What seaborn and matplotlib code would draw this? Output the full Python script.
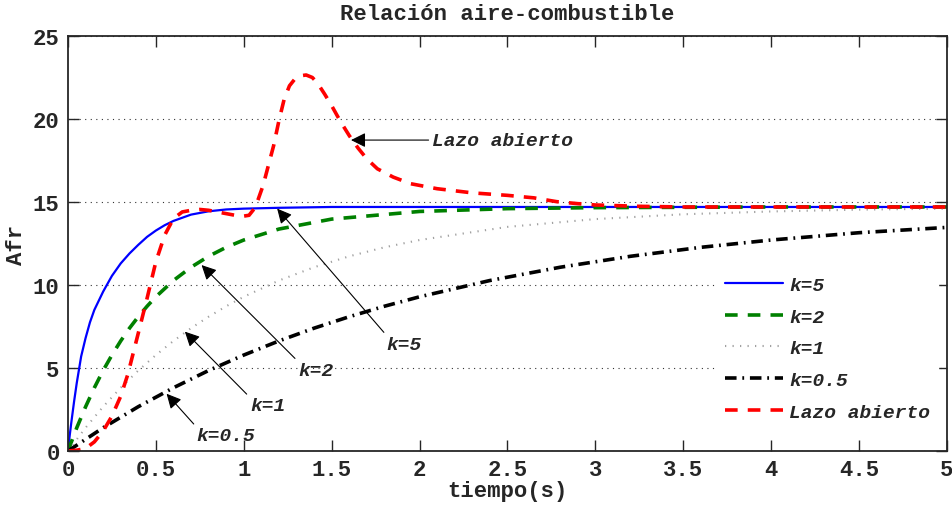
import numpy as np
import pandas as pd
import matplotlib
matplotlib.use("Agg")
import matplotlib.pyplot as plt
import seaborn as sns

# --- data ---
t_k5 = [0, 0.01, 0.02, 0.035, 0.05, 0.075, 0.1, 0.125, 0.15, 0.2, 0.25, 0.3, 0.35,
        0.4, 0.45, 0.5, 0.55, 0.6, 0.7, 0.8, 0.9, 1.0, 1.2, 1.5, 2.0, 3.0, 4.0, 5.0]
afr_k5 = [0, 0.95, 1.8, 3.0, 4.1, 5.7, 6.8, 7.75, 8.5, 9.6, 10.55, 11.3, 11.9,
          12.42, 12.9, 13.28, 13.6, 13.86, 14.24, 14.44, 14.55, 14.6, 14.65, 14.7,
          14.7, 14.7, 14.7, 14.7]

t_k2 = [0, 0.05, 0.1, 0.15, 0.2, 0.25, 0.3, 0.35, 0.4, 0.45, 0.5, 0.6, 0.7,
        0.8, 0.9, 1.0, 1.2, 1.5, 2.0, 2.5, 3.0, 4.0, 5.0]
afr_k2 = [0, 1.4, 2.66, 3.81, 4.85, 5.78, 6.63, 7.40, 8.09, 8.72, 9.29, 10.27, 11.07,
          11.73, 12.27, 12.71, 13.37, 13.97, 14.43, 14.6, 14.66, 14.7, 14.7]

t_k1 = [0, 0.1, 0.2, 0.3, 0.4, 0.5, 0.6, 0.7, 0.8, 0.9, 1.0, 1.2, 1.4, 1.6,
        1.8, 2.0, 2.5, 3.0, 3.5, 4.0, 4.5, 5.0]
afr_k1 = [0, 1.4, 2.67, 3.81, 4.85, 5.78, 6.63, 7.40, 8.09, 8.72, 9.29, 10.27, 11.07, 11.73,
          12.27, 12.71, 13.5, 13.97, 14.26, 14.43, 14.54, 14.6]

t_k05 = [0, 0.2, 0.4, 0.6, 0.8, 1.0, 1.2, 1.4, 1.6, 1.8, 2.0, 2.4, 2.8, 3.2,
         3.6, 4.0, 4.5, 5.0]
afr_k05 = [0, 1.4, 2.67, 3.81, 4.85, 5.78, 6.63, 7.40, 8.09, 8.72, 9.29, 10.27, 11.07, 11.73,
           12.27, 12.71, 13.15, 13.47]

t_lazo = [0, 0.05, 0.1, 0.15, 0.2, 0.25, 0.3, 0.34, 0.4, 0.45, 0.5, 0.55, 0.6, 0.65,
          0.7, 0.75, 0.8, 0.85, 0.9, 0.95, 1.0, 1.03, 1.06, 1.08, 1.11, 1.14, 1.17,
          1.2, 1.23, 1.26, 1.29, 1.32, 1.355, 1.39, 1.42, 1.46, 1.5, 1.55, 1.6, 1.65,
          1.7, 1.76, 1.85, 1.95, 2.1, 2.3, 2.5, 2.65, 2.78, 2.9, 3.0, 3.25, 3.5, 4.0, 5.0]
afr_lazo = [0, 0.05, 0.15, 0.55, 1.2, 2.1, 3.3, 4.6, 7.1, 9.2, 11.4, 13.0, 14.0, 14.4,
            14.5, 14.55, 14.5, 14.4, 14.3, 14.2, 14.15, 14.2, 14.6, 15.1, 16.0, 17.2, 18.4,
            19.9, 21.2, 22.0, 22.4, 22.6, 22.65, 22.5, 22.15, 21.5, 20.8, 19.85, 19.0, 18.25,
            17.6, 17.0, 16.5, 16.1, 15.8, 15.55, 15.4, 15.25, 15.02, 14.9, 14.82, 14.74, 14.7, 14.7, 14.7]

x_ticks = [0, 0.5, 1, 1.5, 2, 2.5, 3, 3.5, 4, 4.5, 5]
x_tick_labels = ["0", "0.5", "1", "1.5", "2", "2.5", "3", "3.5", "4", "4.5", "5"]
y_ticks = [0, 5, 10, 15, 20, 25]

# annotations: label, arrow tip (t, afr), text anchor (t, afr)
notes = [
    ("Lazo abierto", (1.61, 18.73), (2.07, 18.73)),
    ("k=5", (1.19, 14.6), (1.813, 6.95)),
    ("k=2", (0.76, 11.2), (1.31, 5.38)),
    ("k=1", (0.665, 7.19), (1.035, 3.23)),
    ("k=0.5", (0.561, 3.45), (0.732, 1.43)),
]


def main():
    sns.set_style("ticks")
    plt.rcParams["font.family"] = ["Liberation Mono", "DejaVu Sans Mono"]
    plt.rcParams["font.weight"] = "bold"

    fig = plt.figure(figsize=(9.52, 5.06), dpi=100)
    ax = fig.add_axes([0.0714, 0.1067, 0.9233, 0.8202])

    sns.lineplot(x=t_k5, y=afr_k5, ax=ax, color="#0000ff", lw=1.6, label="k=5")
    sns.lineplot(x=t_k2, y=afr_k2, ax=ax, color="#008000", lw=2.6,
                 linestyle=(0, (3.5, 2.8)), label="k=2")
    sns.lineplot(x=t_k1, y=afr_k1, ax=ax, color="#a0a0a0", lw=1.5,
                 linestyle=(0, (0.6, 3.0)), label="k=1")
    sns.lineplot(x=t_k05, y=afr_k05, ax=ax, color="black", lw=2.6,
                 linestyle=(0, (3.2, 1.6, 0.5, 1.6)), label="k=0.5")
    sns.lineplot(x=t_lazo, y=afr_lazo, ax=ax, color="#ff0000", lw=2.6,
                 linestyle=(0, (3.5, 2.8)), label="Lazo abierto")

    ax.set_xlim(0, 5)
    ax.set_ylim(0, 25)
    ax.set_xticks(x_ticks)
    ax.set_xticklabels(x_tick_labels)
    ax.set_yticks(y_ticks)
    ax.tick_params(direction="in", top=True, right=True, length=8, width=1,
                   labelsize=16, pad=6)
    for s in ax.spines.values():
        s.set_linewidth(1.3)
    ax.yaxis.grid(True, linestyle=(0, (1, 4)), color="#333333", lw=0.8)
    ax.set_axisbelow(True)

    ax.set_title("Relación aire-combustible", fontsize=16, fontweight="bold", pad=12)
    ax.set_xlabel("tiempo(s)", fontsize=16, fontweight="bold", labelpad=0)
    ax.set_ylabel("Afr", fontsize=16, fontweight="bold", labelpad=4)

    for label, tip, tail in notes:
        if label == "Lazo abierto":
            va, rel = "center", (0, 0.5)
        else:
            va, rel = "top", (0, 1)
        ax.annotate(label, xy=tip, xytext=tail, ha="left", va=va,
                    fontsize=14, fontstyle="italic", fontweight="bold",
                    arrowprops=dict(arrowstyle="-|>", color="black", lw=0.8,
                                    shrinkA=0, shrinkB=0, relpos=rel,
                                    mutation_scale=22))

    leg = ax.legend(loc="center", bbox_to_anchor=(0.864, 0.247), frameon=True,
                    handlelength=3.0, handletextpad=0.3, labelspacing=0.72,
                    borderpad=0.4,
                    prop=dict(family="Liberation Mono", size=14, style="italic",
                              weight="bold"))
    leg.get_frame().set_edgecolor("white")
    leg.get_frame().set_facecolor("white")
    leg.get_frame().set_alpha(1)

    fig.savefig("out.png", dpi=100)


if __name__ == "__main__":
    main()
